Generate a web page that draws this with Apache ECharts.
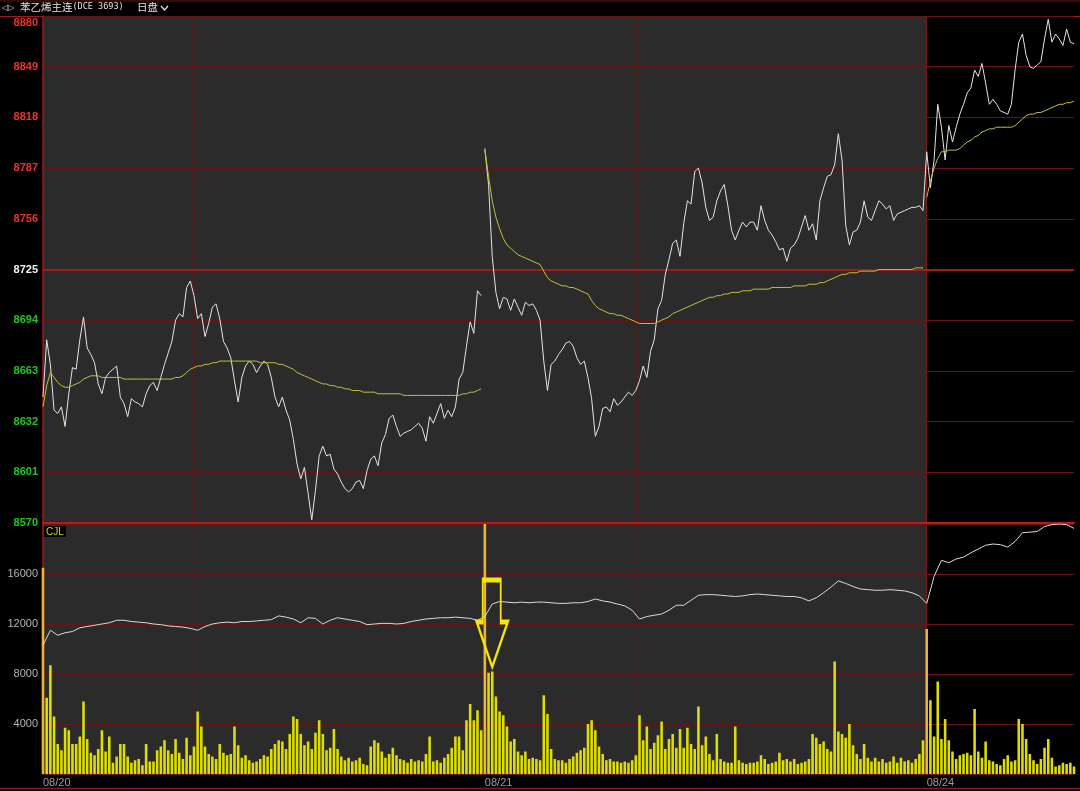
<!DOCTYPE html>
<html>
<head>
<meta charset="utf-8">
<title>苯乙烯主连(DCE 3693)</title>
<script src="https://cdn.jsdelivr.net/npm/echarts@6/dist/echarts.min.js"></script>
<style>
  html, body { margin: 0; padding: 0; background: #000; }
  #chart { width: 1080px; height: 791px; }
</style>
</head>
<body>
<div id="chart"></div>
<script>
// 苯乙烯主连 intraday chart, 3 sessions, 120 slots per session
const days = ['08/20', '08/21', '08/24'];
const slotsPerDay = 120;
const totalSlots = 281;
const prevClose = 8725;

const priceDay1 = [
  8647, 8682, 8667, 8639, 8637, 8641, 8629, 8649, 8665, 8664,
  8682, 8696, 8677, 8673, 8668, 8655, 8649, 8659, 8662, 8664,
  8666, 8647, 8643, 8635, 8646, 8644, 8643, 8641, 8649, 8654,
  8656, 8651, 8659, 8667, 8674, 8681, 8694, 8698, 8696, 8714,
  8718, 8709, 8695, 8698, 8684, 8692, 8702, 8704, 8695, 8681,
  8677, 8671, 8657, 8644, 8659, 8666, 8669, 8667, 8662, 8666,
  8669, 8667, 8659, 8647, 8641, 8647, 8639, 8633, 8621, 8606,
  8597, 8604, 8588, 8572, 8590, 8611, 8617, 8611, 8612, 8603,
  8600, 8595, 8591, 8589, 8591, 8595, 8596, 8591, 8602, 8609,
  8611, 8605, 8619, 8624, 8634, 8636, 8629, 8623, 8625, 8626,
  8627, 8629, 8631, 8628, 8620, 8635, 8631, 8637, 8643, 8634,
  8639, 8635, 8641, 8658, 8662, 8678, 8693, 8686, 8712, 8709
];
const priceDay2 = [
  8799, 8777, 8733, 8711, 8701, 8708, 8707, 8700, 8707, 8702,
  8697, 8705, 8703, 8704, 8700, 8694, 8669, 8651, 8667, 8669,
  8673, 8676, 8680, 8681, 8678, 8671, 8667, 8669, 8659, 8646,
  8623, 8629, 8640, 8641, 8638, 8646, 8642, 8644, 8647, 8650,
  8648, 8651, 8657, 8666, 8659, 8675, 8682, 8701, 8706, 8722,
  8731, 8741, 8743, 8733, 8753, 8767, 8765, 8785, 8787, 8778,
  8763, 8755, 8757, 8767, 8773, 8777, 8764, 8749, 8743, 8749,
  8754, 8751, 8754, 8754, 8749, 8764, 8755, 8749, 8746, 8742,
  8737, 8738, 8730, 8738, 8740, 8744, 8751, 8758, 8749, 8753,
  8743, 8767, 8775, 8782, 8783, 8789, 8808, 8792, 8752, 8740,
  8748, 8749, 8754, 8767, 8757, 8755, 8761, 8767, 8765, 8762,
  8764, 8755, 8759, 8760, 8761, 8762, 8763, 8763, 8764, 8761
];
const priceDay3 = [
  8797, 8775, 8792, 8826, 8812, 8792, 8813, 8803, 8812, 8820,
  8826, 8833, 8836, 8847, 8843, 8851, 8839, 8826, 8829, 8826,
  8822, 8821, 8820, 8826, 8847, 8864, 8869, 8856, 8849, 8848,
  8850, 8852, 8866, 8878, 8864, 8869, 8866, 8862, 8872, 8864,
  8863
];

const avgDay1 = [
  8641, 8654, 8662, 8659, 8656, 8654, 8653, 8653, 8654, 8655,
  8656, 8658, 8659, 8660, 8660, 8660, 8659, 8659, 8659, 8659,
  8659, 8659, 8658, 8658, 8658, 8658, 8658, 8658, 8658, 8658,
  8658, 8658, 8658, 8658, 8658, 8658, 8659, 8659, 8660, 8662,
  8664, 8665, 8666, 8666, 8667, 8667, 8668, 8668, 8669, 8669,
  8669, 8669, 8669, 8669, 8669, 8669, 8669, 8669, 8669, 8668,
  8668, 8668, 8668, 8668, 8667, 8667, 8666, 8665, 8664, 8662,
  8661, 8660, 8659, 8658, 8657, 8656, 8655, 8655, 8654, 8654,
  8653, 8653, 8652, 8652, 8651, 8651, 8651, 8650, 8650, 8650,
  8650, 8649, 8649, 8649, 8649, 8649, 8649, 8649, 8648, 8648,
  8648, 8648, 8648, 8648, 8648, 8648, 8648, 8648, 8648, 8648,
  8648, 8648, 8648, 8648, 8649, 8649, 8650, 8650, 8651, 8652
];
const avgDay2 = [
  8798, 8782, 8767, 8757, 8750, 8744, 8740, 8738, 8736, 8734,
  8733, 8732, 8731, 8730, 8729, 8728, 8724, 8720, 8718, 8717,
  8716, 8715, 8715, 8714, 8714, 8713, 8712, 8711, 8710, 8706,
  8703, 8701, 8700, 8699, 8698, 8698, 8697, 8697, 8696, 8695,
  8694, 8693, 8692, 8692, 8692, 8692, 8692, 8693, 8694, 8695,
  8696, 8698, 8699, 8700, 8701, 8702, 8703, 8704, 8705, 8706,
  8707, 8708, 8708, 8709, 8709, 8710, 8710, 8711, 8711, 8711,
  8712, 8712, 8712, 8713, 8713, 8713, 8713, 8713, 8714, 8714,
  8714, 8714, 8714, 8714, 8715, 8715, 8715, 8715, 8716, 8716,
  8716, 8717, 8717, 8718, 8719, 8720, 8721, 8722, 8722, 8723,
  8723, 8723, 8724, 8724, 8724, 8724, 8724, 8725, 8725, 8725,
  8725, 8725, 8725, 8725, 8725, 8725, 8725, 8726, 8726, 8726
];
const avgDay3 = [
  8769, 8779, 8787, 8793, 8797, 8797, 8798, 8798, 8798, 8799,
  8801, 8803, 8804, 8806, 8807, 8809, 8810, 8811, 8811, 8812,
  8812, 8812, 8812, 8812, 8813, 8815, 8817, 8819, 8820, 8820,
  8821, 8821, 8822, 8823, 8824, 8825, 8826, 8826, 8827, 8827,
  8828
];

// CJL (volume)
const volDay1 = [
  16500, 6100, 8700, 4600, 2400, 1900, 3700, 3500, 2400, 2400,
  3000, 5800, 2800, 1700, 1500, 2000, 3500, 1800, 3000, 900,
  1400, 2400, 2400, 1400, 900, 1100, 1200, 700, 2400, 1000,
  1000, 1900, 2200, 2700, 1900, 1600, 2800, 1700, 1200, 2900,
  1500, 2200, 5000, 3800, 2200, 1600, 1400, 1200, 2400, 1700,
  1500, 1600, 3800, 2300, 1300, 1500, 1100, 900, 1000, 1200,
  1500, 1400, 2000, 2400, 2700, 2600, 2000, 3200, 4600, 4400,
  3200, 2300, 2600, 2000, 3300, 4300, 3200, 1900, 2100, 3600,
  2000, 1400, 1100, 1300, 1000, 1100, 1300, 800, 700, 2200,
  2700, 2500, 1800, 1300, 1600, 2100, 1500, 1200, 1100, 900,
  1200, 1000, 1100, 1000, 1600, 3000, 1000, 1100, 900, 1300,
  1600, 2100, 3000, 3000, 1900, 4300, 5600, 4300, 5100, 3500
];
const volDay2 = [
  20000, 8100, 8200, 6200, 5000, 4700, 3800, 2600, 2800, 1800,
  1500, 1800, 1200, 1300, 1200, 1100, 6300, 4800, 2000, 1200,
  1100, 1100, 900, 1200, 1400, 1700, 1900, 2100, 4000, 4300,
  3500, 2200, 1600, 1100, 1200, 1000, 1000, 900, 1000, 900,
  1100, 1500, 4700, 2700, 3800, 2000, 2500, 3100, 4200, 2000,
  2800, 3200, 2100, 3600, 2100, 3700, 2400, 2000, 5400, 2300,
  3000, 1600, 1100, 3200, 1200, 1000, 900, 900, 3800, 1100,
  900, 800, 900, 900, 1000, 1500, 1200, 800, 900, 1000,
  1700, 1100, 1200, 1000, 1200, 800, 900, 1000, 1200, 3200,
  2900, 2400, 2600, 2000, 1800, 9000, 3400, 3200, 2900, 4000,
  2300, 1600, 1200, 2400, 1300, 1000, 1300, 1000, 1200, 900,
  1000, 1400, 900, 1300, 1000, 1100, 900, 1200, 1600, 2700
];
const volDay3 = [
  11600, 5900, 3000, 7400, 2800, 4400, 2700, 1800, 1200, 1500,
  1600, 1700, 1500, 5200, 1800, 1300, 2600, 1100, 1000, 800,
  700, 1200, 1500, 1000, 1100, 4400, 4000, 2800, 1600, 1100,
  800, 1200, 2100, 2800, 1300, 600, 700, 900, 800, 900,
  600
];

// white line in the CJL panel, sampled every 2 slots, read on the CJL scale
const oiLine = [
  10300, 11500, 11100, 11300, 11400, 11700, 11800, 11900, 12000, 12100,
  12300, 12300, 12200, 12150, 12100, 12000, 11950, 11850, 11800, 11750,
  11650, 11500, 11800, 12000, 12100, 12150, 12100, 12200, 12200, 12250,
  12300, 12350, 12650, 12550, 12400, 12100, 12500, 12450, 12000, 12300,
  12500, 12400, 12300, 12200, 11950, 12000, 12050, 12050, 12000, 12050,
  12200, 12300, 12400, 12450, 12500, 12500, 12550, 12500, 12450, 12300,
  12600, 13600, 13800, 13750, 13700, 13750, 13700, 13750, 13750, 13700,
  13650, 13650, 13700, 13700, 13800, 14000, 13850, 13750, 13600, 13450,
  13100, 12400, 12600, 12700, 12800, 13100, 13500, 13500, 13900, 14300,
  14350, 14350, 14300, 14250, 14200, 14250, 14350, 14400, 14350, 14300,
  14250, 14200, 14200, 14100, 13850, 14100, 14500, 14950, 15450, 15250,
  15000, 14800, 14750, 14700, 14700, 14750, 14700, 14650, 14500, 14250,
  13650, 15800, 17100, 16900, 17200, 17350, 17700, 18000, 18300, 18400,
  18350, 18150, 18600, 19300, 19350, 19400, 19800, 19950, 20000, 19950,
  19650
];

const pad = (n, arr) => new Array(n).fill(null).concat(arr);
const slots = Array.from({ length: totalSlots }, (_, i) => String(i));
const oiSlots = oiLine.map((_, i) => String(i * 2));

const gridRed = '#6a1313';
const font = 'Liberation Sans, Arial, sans-serif';

const volume = volDay1.concat(volDay2, volDay3).map((v, i) =>
  i % slotsPerDay === 0 ? { value: v, itemStyle: { color: '#f0b235' } } : v
);

// vertical session lines: 09:00 inside each day, and day boundaries
const vLines = [
  { xAxis: 41, lineStyle: { type: [3, 3] } },
  { xAxis: slotsPerDay, lineStyle: { type: [3, 3] } },
  { xAxis: slotsPerDay + 41, lineStyle: { type: [3, 3] } },
  { xAxis: slotsPerDay * 2, lineStyle: { type: 'solid', color: '#7e1616' } }
];
const greyArea = [[{ xAxis: 0 }, { xAxis: slotsPerDay * 2 }]];

function priceLabel(v) {
  const s = String(v);
  if (v === 8880) return '{top|' + s + '}';
  if (v > prevClose) return '{up|' + s + '}';
  if (v === prevClose) return '{flat|' + s + '}';
  return '{down|' + s + '}';
}

const chart = echarts.init(document.getElementById('chart'));

const option = {
  backgroundColor: '#000',
  animation: false,
  textStyle: { fontFamily: font },
  grid: [
    { left: 43, right: 6, top: 16, height: 507 },
    { left: 43, right: 6, top: 524, height: 250 }
  ],
  xAxis: [
    {
      type: 'category', gridIndex: 0, data: slots, boundaryGap: false,
      axisLine: { lineStyle: { color: '#b51d1d', width: 2 } },
      axisTick: { show: false }, axisLabel: { show: false }, splitLine: { show: false }
    },
    {
      type: 'category', gridIndex: 1, data: slots, boundaryGap: false,
      axisLine: { show: false }, axisTick: { show: false }, splitLine: { show: false },
      axisLabel: {
        interval: (index) => index % slotsPerDay === 0,
        formatter: (value, index) => days[Math.round(index / slotsPerDay)] || '',
        align: 'left', color: '#9c9c9c', fontSize: 11, margin: 3
      }
    },
    {
      type: 'category', gridIndex: 1, data: oiSlots, boundaryGap: false, show: false
    }
  ],
  yAxis: [
    {
      type: 'value', gridIndex: 0, min: 8570, max: 8880, interval: 31,
      axisLine: { show: true, lineStyle: { color: '#9a1a1a', width: 1.5 } },
      axisTick: { show: false },
      splitLine: { lineStyle: { color: gridRed, width: 1 } },
      axisLabel: {
        margin: 5,
        formatter: priceLabel,
        rich: {
          up: { color: '#e8342f', fontWeight: 'bold', fontSize: 11, fontFamily: font },
          top: { color: '#e8342f', fontWeight: 'bold', fontSize: 11, fontFamily: font, padding: [14, 0, 0, 0] },
          flat: { color: '#f2f2f2', fontWeight: 'bold', fontSize: 11, fontFamily: font },
          down: { color: '#1ec81e', fontWeight: 'bold', fontSize: 11, fontFamily: font }
        }
      }
    },
    {
      type: 'value', gridIndex: 1, min: 0, max: 20000, interval: 4000,
      axisLine: { show: true, lineStyle: { color: '#9a1a1a', width: 1.5 } },
      axisTick: { show: false },
      splitLine: { lineStyle: { color: gridRed, width: 1 } },
      axisLabel: {
        margin: 5, color: '#b4b4b4', fontSize: 11,
        formatter: (v) => (v === 0 || v === 20000 ? '' : String(v))
      }
    }
  ],
  series: [
    {
      // background + session lines, price panel
      type: 'line', xAxisIndex: 0, yAxisIndex: 0, data: [], z: -5, silent: true,
      markArea: { silent: true, z: -10, itemStyle: { color: '#2b2b2b' }, data: greyArea },
      markLine: {
        silent: true, z: -4, symbol: 'none', label: { show: false },
        lineStyle: { color: gridRed, width: 1 }, data: vLines
      }
    },
    {
      type: 'line', xAxisIndex: 0, yAxisIndex: 0, data: priceDay1,
      symbol: 'none', lineStyle: { color: '#e4e4e4', width: 1 },
      markLine: {
        silent: true, z: 1, symbol: 'none', label: { show: false },
        lineStyle: { color: '#a51b1b', width: 2, type: 'solid' },
        data: [{ yAxis: prevClose }]
      }
    },
    {
      type: 'line', xAxisIndex: 0, yAxisIndex: 0,
      data: pad(slotsPerDay, priceDay2.concat(priceDay3)),
      symbol: 'none', lineStyle: { color: '#e4e4e4', width: 1 }
    },
    {
      type: 'line', xAxisIndex: 0, yAxisIndex: 0, data: avgDay1,
      symbol: 'none', lineStyle: { color: '#c6c034', width: 1 }
    },
    {
      type: 'line', xAxisIndex: 0, yAxisIndex: 0, data: pad(slotsPerDay, avgDay2),
      symbol: 'none', lineStyle: { color: '#c6c034', width: 1 }
    },
    {
      type: 'line', xAxisIndex: 0, yAxisIndex: 0, data: pad(slotsPerDay * 2, avgDay3),
      symbol: 'none', lineStyle: { color: '#c6c034', width: 1 }
    },
    {
      // background + session lines, CJL panel
      type: 'line', xAxisIndex: 1, yAxisIndex: 1, data: [], z: -5, silent: true,
      markArea: { silent: true, z: -10, itemStyle: { color: '#2b2b2b' }, data: greyArea },
      markLine: {
        silent: true, z: -4, symbol: 'none', label: { show: false },
        lineStyle: { color: gridRed, width: 1 }, data: vLines
      }
    },
    {
      type: 'bar', xAxisIndex: 1, yAxisIndex: 1, data: volume,
      barWidth: '70%', itemStyle: { color: '#dede00' },
      markPoint: {
        silent: true,
        symbol: 'path://M6,0 L24,0 L24,42 L31,42 L15.5,87 L0,42 L6,42 Z',
        symbolSize: [31, 87],
        label: { show: false },
        itemStyle: { color: 'rgba(0,0,0,0)', borderColor: '#f6e600', borderWidth: 3 },
        data: [{ coord: [122, 12040] }]
      }
    },
    {
      type: 'line', xAxisIndex: 2, yAxisIndex: 1, data: oiLine,
      symbol: 'none', lineStyle: { color: '#dadada', width: 1 }
    }
  ],
  graphic: [
    { type: 'line', shape: { x1: 0, y1: 1, x2: 1080, y2: 1 }, style: { stroke: '#6e1414', lineWidth: 1 } },
    { type: 'line', shape: { x1: 0, y1: 16.5, x2: 1080, y2: 16.5 }, style: { stroke: '#a01b1b', lineWidth: 1 } },
    { type: 'line', shape: { x1: 0, y1: 788.5, x2: 1080, y2: 788.5 }, style: { stroke: '#8e1818', lineWidth: 1.5 } },
    {
      type: 'text', left: 2, top: 4,
      style: { text: '◁▷', fill: '#cfcfcf', font: '8px DejaVu Sans' }
    },
    {
      type: 'text', left: 20, top: 2,
      style: {
        text: '{cn|苯乙烯主连}{en|(DCE 3693)}',
        rich: {
          cn: { fill: '#e2e2e2', font: '10.5px "Noto Sans CJK SC"' },
          en: { fill: '#e2e2e2', font: '8.5px "DejaVu Sans Mono"' }
        }
      }
    },
    {
      type: 'text', left: 137, top: 2,
      style: { text: '日盘', fill: '#e2e2e2', font: '10.5px "Noto Sans CJK SC"' }
    },
    {
      type: 'polyline', shape: { points: [[161, 6], [164.5, 10], [168, 6]] },
      style: { stroke: '#e2e2e2', lineWidth: 1.3, fill: null }
    },
    {
      type: 'text', left: 44, top: 526,
      style: {
        text: 'CJL', fill: '#d8d800', font: '10px Liberation Sans',
        backgroundColor: '#000', padding: [1, 2, 0, 2]
      }
    }
  ]
};

chart.setOption(option);
</script>
</body>
</html>
